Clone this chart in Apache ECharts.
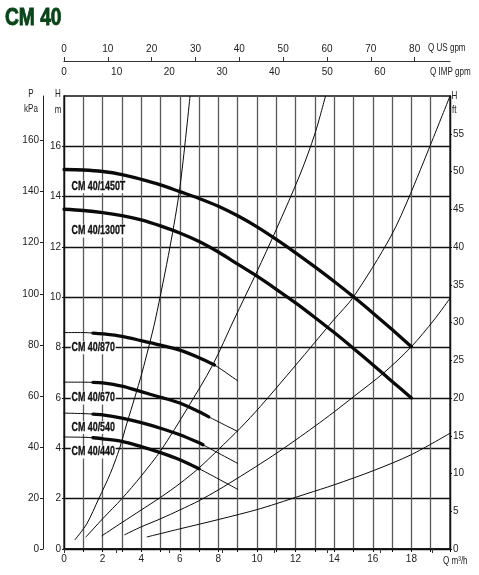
<!DOCTYPE html>
<html><head><meta charset="utf-8">
<script src="https://cdn.jsdelivr.net/npm/echarts@6/dist/echarts.min.js"></script>
<style>html,body{margin:0;padding:0;background:#fff}#c{width:479px;height:575px}</style>
</head><body><div id="c"></div>
<script>
const FONT = "'Liberation Sans',Arial,sans-serif";

// ---- axis ranges & tick values ----
const flowMax = 20;          // m3/h
const headMax = 18;          // m
const pressureMax = 177.5;   // kPa at chart top
const feetMax = 60;          // ft at chart top
const usGpmMax = 88.06;
const impGpmMax = 73.32;
const kpaTicks = [0, 20, 40, 60, 80, 100, 120, 140, 160];
const meterTicks = [0, 2, 4, 6, 8, 10, 12, 14, 16];
const feetTicks = [0, 5, 10, 15, 20, 25, 30, 35, 40, 45, 50, 55];
const usGpmTicks = [0, 10, 20, 30, 40, 50, 60, 70, 80];
const impGpmTicks = [0, 10, 20, 30, 40, 50, 60, 70];
const impGpmLabels = [0, 10, 20, 30, 40, 50, 60];

// ---- pump curves (Q m3/h, H m) ----
const q1450T = [0, 1, 2, 3, 4, 5, 6, 7, 8, 9, 10, 11, 12, 13, 14, 15, 16, 17, 18];
const h1450T = [15.08, 15.06, 15.0, 14.88, 14.69, 14.47, 14.2, 13.93, 13.62, 13.24, 12.8, 12.3, 11.77, 11.21, 10.63, 10.02, 9.38, 8.72, 8.04];
const q1300T = [0, 1, 2, 3, 4, 5, 6, 7, 8, 9, 10, 11, 12, 13, 14, 15, 16, 17, 18];
const h1300T = [13.5, 13.45, 13.37, 13.25, 13.08, 12.84, 12.56, 12.22, 11.8, 11.32, 10.84, 10.32, 9.78, 9.2, 8.6, 7.97, 7.32, 6.66, 6.0];

const q870 = [0, 1, 1.5, 2, 3, 4, 5, 6, 7, 7.8, 9];
const h870 = [8.6, 8.6, 8.58, 8.55, 8.45, 8.28, 8.1, 7.9, 7.6, 7.31, 6.68];
const bold870 = [1.5, 7.8];
const q670 = [0, 1, 1.5, 2, 3, 4, 5, 6, 7, 7.5, 9];
const h670 = [6.63, 6.63, 6.62, 6.6, 6.47, 6.25, 6.03, 5.8, 5.45, 5.25, 4.67];
const bold670 = [1.5, 7.5];
const q540 = [0, 1, 1.5, 2, 3, 4, 5, 6, 7, 7.2, 9];
const h540 = [5.4, 5.38, 5.36, 5.33, 5.2, 5.02, 4.8, 4.54, 4.22, 4.14, 3.4];
const bold540 = [1.5, 7.2];
const q440 = [0, 1, 1.5, 2, 3, 4, 5, 6, 7, 9];
const h440 = [4.45, 4.44, 4.42, 4.38, 4.28, 4.07, 3.83, 3.55, 3.19, 2.37];
const bold440 = [1.5, 7.0];

// ---- system curves ----
const qSys1 = [0.57, 1.18, 1.8, 2.4, 2.88, 3.26, 3.66, 4.04, 4.38, 4.73, 5.49, 6.01, 6.53];
const hSys1 = [0.37, 1, 2, 3, 4, 5, 6, 7, 8, 9.1, 12.0, 14.4, 18];
const qSys2 = [1.14, 2, 3, 4, 5.03, 6.4, 7.71, 8.8, 9.96, 11, 12.24, 13, 13.55];
const hSys2 = [0.48, 1.2, 2.0, 2.9, 3.93, 5.6, 7.32, 9.1, 10.96, 12.7, 14.9, 16.5, 18];
const qSys3 = [1.97, 3, 4, 5, 6, 6.95, 7.97, 9.13, 10.17, 12, 13.97, 15, 16.92, 17.96, 20];
const hSys3 = [0.53, 1.05, 1.55, 2.05, 2.6, 3.19, 3.93, 4.8, 5.66, 7.3, 9.1, 10.02, 12.4, 14.13, 18];
const qSys4 = [3.15, 4, 5, 6, 7, 8, 9.13, 10.16, 11, 12, 13, 14, 15, 16.57, 18, 19.17, 20];
const hSys4 = [0.57, 0.88, 1.2, 1.55, 1.92, 2.35, 2.88, 3.38, 3.8, 4.33, 4.88, 5.45, 6.05, 7.0, 8.04, 9.1, 9.96];
const qSys5 = [4.31, 6, 8, 10.16, 12.59, 14, 16.05, 18, 20];
const hSys5 = [0.48, 0.8, 1.17, 1.6, 2.2, 2.55, 3.12, 3.75, 4.6];

// ---- curve labels ----
const labelNames = ['CM 40/1450T', 'CM 40/1300T', 'CM 40/870', 'CM 40/670', 'CM 40/540', 'CM 40/440'];
const labelQ = [0.35, 0.35, 0.35, 0.35, 0.35, 0.35];
const labelH = [14.39, 12.64, 8.0, 6.0, 4.83, 3.85];

function pairs(q, h) { return q.map((x, i) => [x, h[i]]); }
function sub(q, h, r) { return pairs(q, h).filter(p => p[0] >= r[0] - 1e-9 && p[0] <= r[1] + 1e-9); }
function line(data, width) {
  return { type: 'line', data, smooth: 0.3, symbol: 'none', silent: true,
    lineStyle: { color: '#0a0a0a', width, cap: 'round' }, z: width > 2 ? 4 : 3, animation: false };
}

const series = [
  line(pairs(qSys1, hSys1), 1), line(pairs(qSys2, hSys2), 1), line(pairs(qSys3, hSys3), 1),
  line(pairs(qSys4, hSys4), 1), line(pairs(qSys5, hSys5), 1),
  line(pairs(q1450T, h1450T), 3.3), line(pairs(q1300T, h1300T), 3.3),
  line(pairs(q870, h870), 1), line(sub(q870, h870, bold870), 3.3),
  line(pairs(q670, h670), 1), line(sub(q670, h670, bold670), 3.3),
  line(pairs(q540, h540), 1), line(sub(q540, h540, bold540), 3.3),
  line(pairs(q440, h440), 1), line(sub(q440, h440, bold440), 3.3)
];

const axisText = { fontFamily: FONT, fontSize: 10, color: '#222' };

function unitText(text, x, y, align) {
  return { type: 'text', x, y, scaleX: 0.7, z: 20,
    style: { text, fill: '#222', font: "11.5px " + FONT, align: align || 'left', verticalAlign: 'middle' } };
}

const option = {
  animation: false,
  backgroundColor: '#fff',
  grid: { left: 64, right: 29, top: 96, bottom: 26, show: true, borderColor: '#111', borderWidth: 1.3 },
  xAxis: [
    { type: 'value', position: 'bottom', min: 0, max: flowMax, interval: 1,
      axisLine: { show: true, onZero: false, lineStyle: { color: '#111', width: 1.6 } },
      axisTick: { show: true, length: 3, lineStyle: { color: '#111' } },
      axisLabel: Object.assign({ margin: 5, formatter: v => (v % 2 === 0 && v < flowMax) ? String(v) : '' }, axisText),
      splitLine: { show: true, lineStyle: { color: '#5a5a5a', width: 1.3 } } },
    { type: 'value', position: 'top', offset: 35, min: 0, max: usGpmMax, interval: 10,
      axisLine: { show: true, onZero: false, lineStyle: { color: '#333', width: 1.2 } },
      axisTick: { show: true, length: 4, customValues: usGpmTicks, lineStyle: { color: '#333' } },
      axisLabel: Object.assign({ margin: 7, customValues: usGpmTicks, formatter: v => (v % 10 === 0 && v <= 80) ? String(v) : '' }, axisText),
      splitLine: { show: false } },
    { type: 'value', position: 'top', offset: 35, min: 0, max: impGpmMax, interval: 10,
      axisLine: { show: false },
      axisTick: { show: true, inside: true, length: 4, customValues: impGpmTicks, lineStyle: { color: '#333' } },
      axisLabel: Object.assign({ inside: true, margin: 6, customValues: impGpmLabels, formatter: v => (v % 10 === 0 && v <= 60) ? String(v) : '' }, axisText),
      splitLine: { show: false } }
  ],
  yAxis: [
    { type: 'value', position: 'left', min: 0, max: headMax, interval: 1,
      axisLine: { show: true, onZero: false, lineStyle: { color: '#111', width: 1.3 } },
      axisTick: { show: true, length: 2, customValues: meterTicks, lineStyle: { color: '#111' } },
      axisLabel: Object.assign({ margin: 3, formatter: v => (v % 2 === 0 && v < headMax) ? String(v) : '' }, axisText),
      splitLine: { show: true, lineStyle: { color: '#111', width: 1.3 } } },
    { type: 'value', position: 'left', offset: 21, min: 0, max: pressureMax, interval: 20,
      axisLine: { show: true, onZero: false, lineStyle: { color: '#222', width: 1 } },
      axisTick: { show: true, length: 3, customValues: kpaTicks, lineStyle: { color: '#222' } },
      axisLabel: Object.assign({ margin: 4, customValues: kpaTicks, formatter: v => (v % 20 === 0 && v <= 160) ? String(v) : '' }, axisText),
      splitLine: { show: false } },
    { type: 'value', position: 'right', min: 0, max: feetMax, interval: 5,
      axisLine: { show: true, onZero: false, lineStyle: { color: '#111', width: 1.3 } },
      axisTick: { show: true, length: 2, customValues: feetTicks, lineStyle: { color: '#111' } },
      axisLabel: Object.assign({ margin: 3, customValues: feetTicks, formatter: v => (v % 5 === 0 && v <= 55) ? String(v) : '' }, axisText),
      splitLine: { show: false } }
  ],
  graphic: [
    { type: 'text', x: 5, y: 18, scaleX: 0.8, style: { text: 'CM 40', fill: '#0a451a', stroke: '#0a451a', lineWidth: 0.9,
      font: "bold 24px " + FONT, align: 'left', verticalAlign: 'middle' } },
    unitText('P', 31, 93.7, 'center'),
    unitText('kPa', 31, 108.5, 'center'),
    unitText('H', 58, 93.7, 'center'),
    unitText('m', 58, 109.5, 'center'),
    unitText('H', 451.5, 96),
    unitText('ft', 452, 110),
    unitText('Q US gpm', 428, 48),
    unitText('Q IMP gpm', 430, 72),
    unitText('Q m³/h', 443, 560.5)
  ],
  series
};

const chart = echarts.init(document.getElementById('c'), null, { renderer: 'canvas' });
chart.setOption(option);

// curve name labels placed through the chart's own coordinate system
const labelGraphics = labelNames.map((n, i) => {
  const p = chart.convertToPixel({ gridIndex: 0 }, [labelQ[i], labelH[i]]);
  return { type: 'text', x: p[0], y: p[1], scaleX: 0.74, z: 30,
    style: { text: n, fill: '#111', stroke: '#111', lineWidth: 0.3, font: "bold 12px " + FONT, align: 'left', verticalAlign: 'middle',
      backgroundColor: '#fff', padding: [1, 1, 0, 1] } };
});
chart.setOption({ graphic: option.graphic.concat(labelGraphics) });
</script>
</body></html>
